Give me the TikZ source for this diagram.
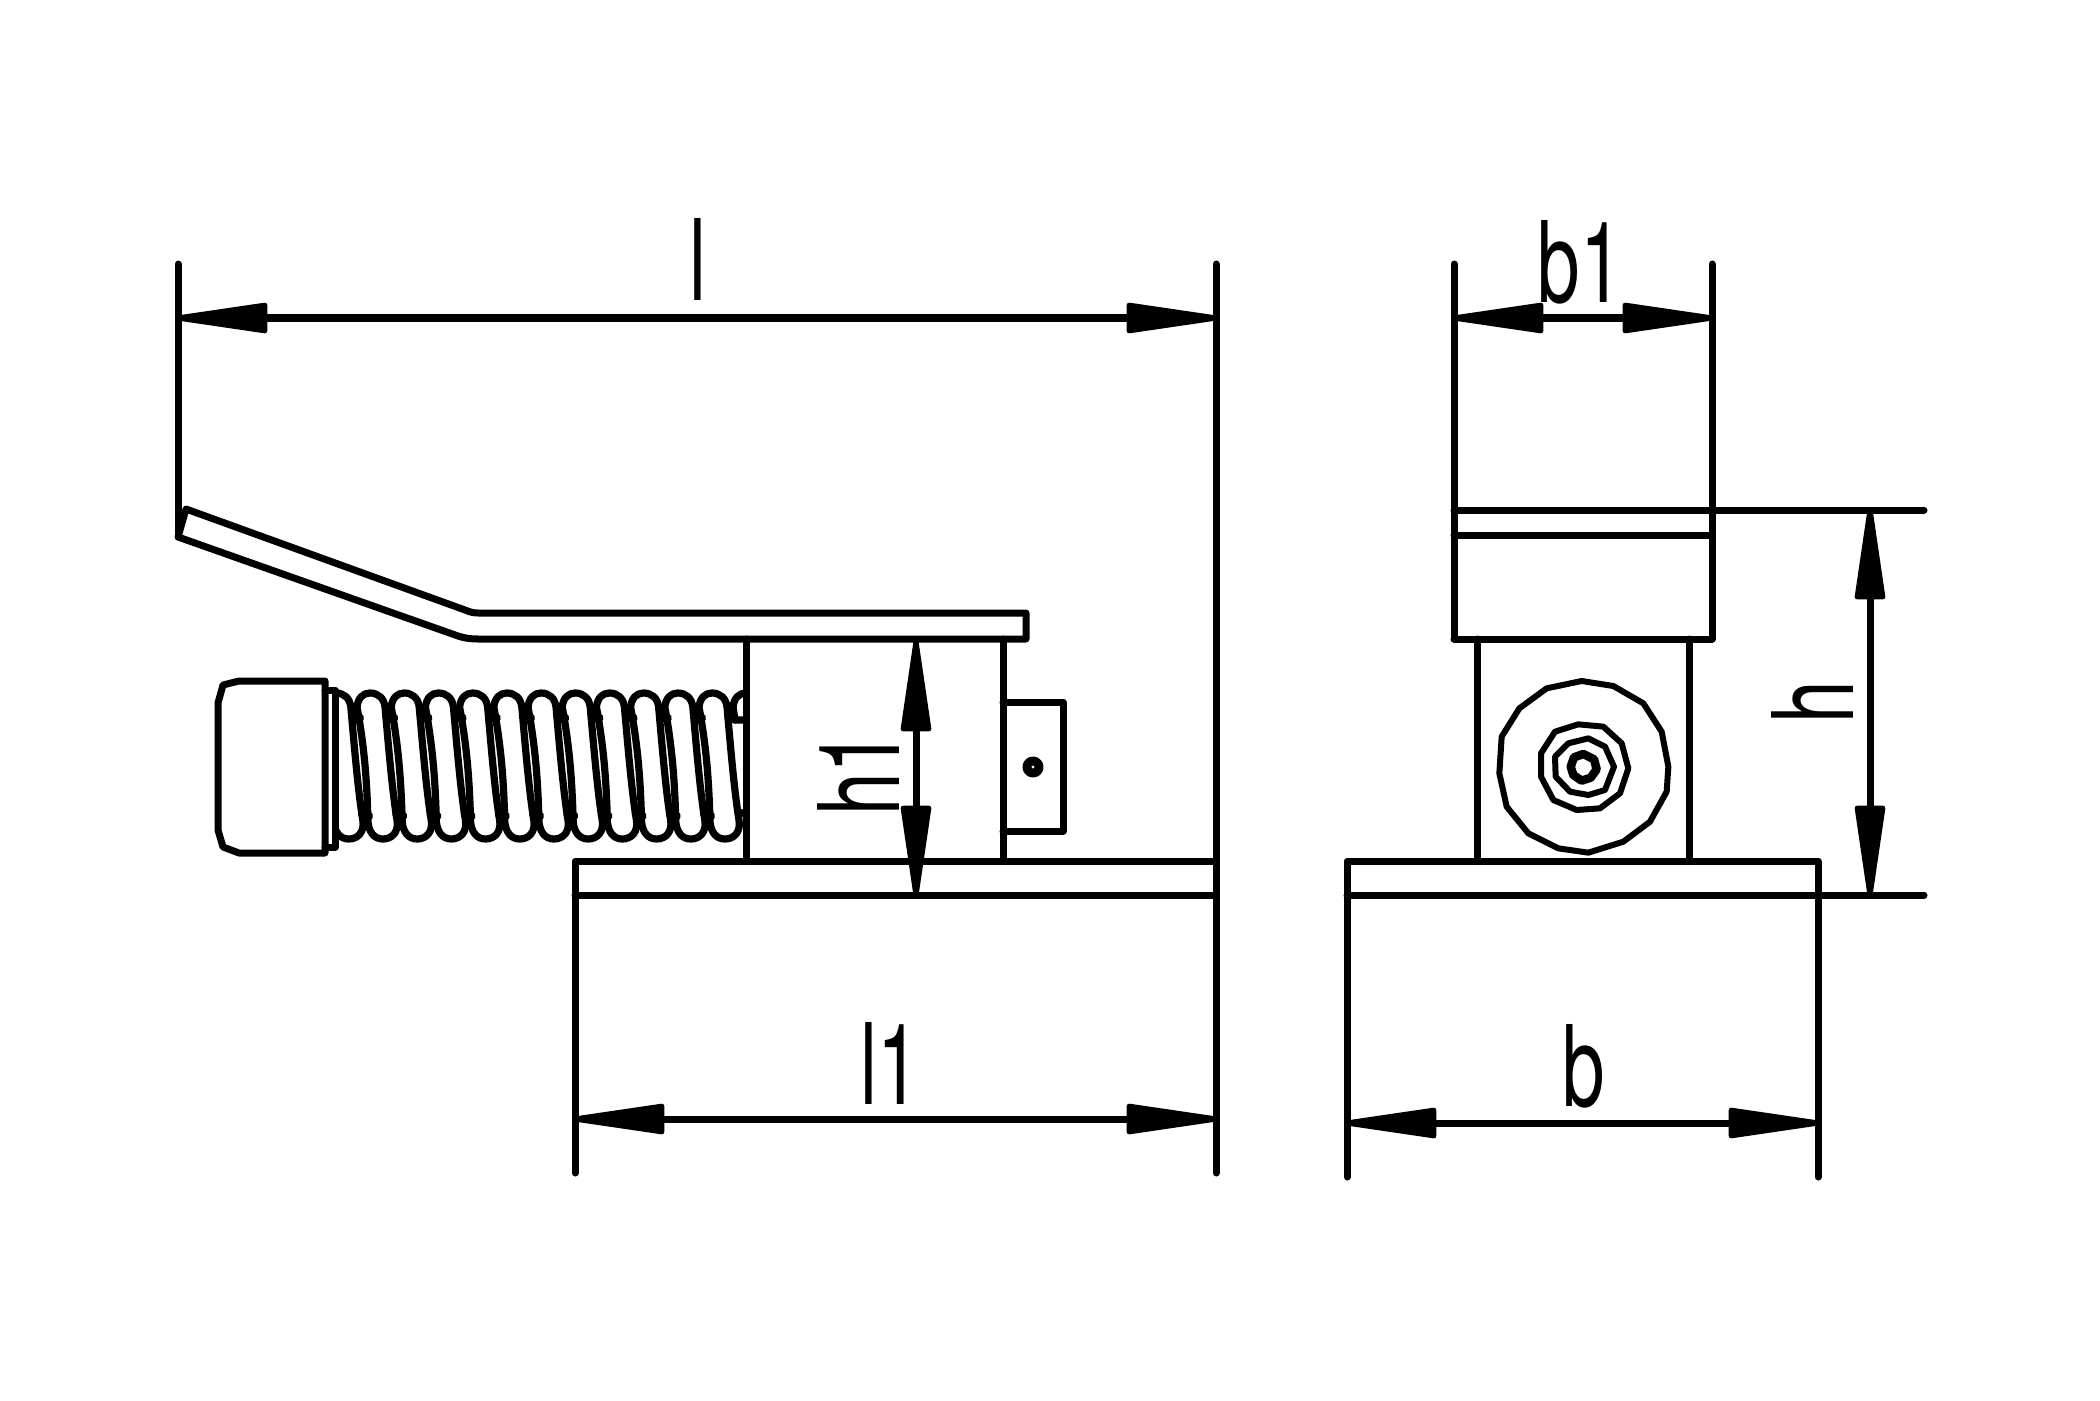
\documentclass[tikz,border=0pt]{standalone}
\usepackage{fontspec}
\usetikzlibrary{arrows.meta}
\newfontfamily\dimfont[FakeStretch=0.68]{TeX Gyre Heros}

\begin{document}
\begin{tikzpicture}[x=0.01cm, y=-0.01cm, line width=0.07cm, line join=round, line cap=round]
    \tikzstyle{dim}=[<->, >={Triangle[length=1.08cm,width=0.3cm,line width=0.05cm,round]}, shorten <=-0.03cm, shorten >=-0.03cm]
    \tikzstyle{dimlabel}=[font=\dimfont\fontsize{32}{32}\selectfont, inner sep=0pt, anchor=base]
    \tikzstyle{coil}=[line width=0.072cm]
    \tikzstyle{blob}=[line width=0.1cm]
    \tikzstyle{ring}=[line width=0.06cm]

    \path[use as bounding box] (0,0) rectangle (2100,1400);

    % extension line ends
    \coordinate (lL) at (178,264);
    \coordinate (lLb) at (178,537);
    \coordinate (lR) at (1216,264);
    \coordinate (lRb) at (1216,1173);
    \coordinate (lIb) at (575,1173);
    \coordinate (bA) at (1454,264);
    \coordinate (bB) at (1712,264);
    \coordinate (bAb) at (1454,639);
    \coordinate (bBb) at (1712,639);
    \coordinate (bL) at (1347,861);
    \coordinate (bLb) at (1347,1177);
    \coordinate (bR) at (1818,861);
    \coordinate (bRb) at (1818,1177);
    \coordinate (hT) at (1924,510);
    \coordinate (hB) at (1924,895);

    % lever
    \draw (lLb) -- (186,509) -- (465,610) .. controls (470,612) and (473,613) .. (478,613)
        -- (1026,613) -- (1026,639) -- (478,639) .. controls (470,639) and (464,638) .. (458,636) -- cycle;

    % spring
    \begin{scope}
        \clip (335,680) rectangle (746,860);
        \foreach \i in {-1,...,10} {
            \pgfmathsetmacro{\xa}{370+34.2*\i}
            \begin{scope}[shift={(\xa,0)}]
                \draw[coil, fill=white] (-13,707) .. controls (-12,698) and (-7,693) .. (0,693)
                    .. controls (8,693) and (14,698) .. (15,707)
                    .. controls (18,740) and (22,790) .. (27,820)
                    .. controls (29,832) and (22,839) .. (13,839)
                    .. controls (4,839) and (-1,832) .. (-2,822)
                    .. controls (-3,785) and (-5,750) .. (-13,707) -- cycle;
                \draw[blob] (-17,716) -- (-11,718);
                \draw[blob] (-7,814) -- (-2,816);
            \end{scope}
        }
        \draw[coil] (738,812) -- (746,814);
        % last turn goes behind the block
        \clip (700,680) rectangle (746,720);
        \draw[coil] (733,707) .. controls (734,698) and (739,693) .. (746,693);
    \end{scope}
    \draw[coil] (728,718) -- (735,720) -- (746,720);
    \draw[coil] (733,707) -- (735,720);

    % handle
    \draw (218,703) -- (223,685) -- (239,681) -- (325,681) -- (325,853) -- (239,853) -- (223,847) -- (218,830) -- cycle;
    \draw (325,690) -- (335,690) -- (335,847) -- (325,847);

    % block
    \draw (746,639) -- (746,861);
    \draw (1003,639) -- (1003,861);
    \draw (1003,702) -- (1063,702) -- (1063,831) -- (1003,831);
    \draw[line width=0.09cm] (1033,767) circle (6);

    % base, left view
    \draw (lIb) -- (575,861) -- (1216,861);
    \draw (575,895) -- (1216,895);

    % right view
    \draw (bAb) -- (bBb);
    \draw (1454,510) -- (hT);
    \draw (1454,535) -- (1712,535);
    \draw (1477,639) -- (1477,861);
    \draw (1689,639) -- (1689,861);
    \draw (bLb) -- (bL) -- (bR) -- (bRb);
    \draw (bL |- hB) -- (hB);

    % roller
    \begin{scope}[shift={(1440,480)}, x=0.01cm/3, y=-0.01cm/3]
        \draw[ring] (425,603) -- (520,618) -- (610,670) -- (665,755) -- (685,860) -- (680,935)
            -- (630,1025) -- (550,1085) -- (445,1118) -- (355,1105) -- (265,1060) -- (200,980)
            -- (178,880) -- (185,770) -- (238,685) -- (320,625) -- cycle;
        \draw[ring] (415,733) -- (490,740) -- (545,790) -- (565,865) -- (540,940) -- (480,985)
            -- (410,990) -- (340,960) -- (303,890) -- (303,820) -- (345,755) -- cycle;
        \draw[ring] (385,790) -- (445,775) -- (495,800) -- (522,860) -- (495,930) -- (445,945)
            -- (390,935) -- (347,890) -- (345,830) -- cycle;
        \draw[line width=0.085cm] (430,822) -- (462,838) -- (470,868) -- (452,893) -- (425,902) -- (400,885) -- (392,860) -- (402,832) -- cycle;
    \end{scope}

    % extension lines
    \draw (lL) -- (lLb);
    \draw (lR) -- (lRb);
    \draw (bA) -- (bAb);
    \draw (bB) -- (bBb);

    % dimensions
    \coordinate (hOne) at (916,642);
    \coordinate (hOneb) at (916,895);
    \path
        (178,318) edge[dim] (1216,318)
        (575,1119) edge[dim] (1216,1119)
        (1454,318) edge[dim] (1712,318)
        (1347,1123) edge[dim] (1818,1123)
        (1870,510) edge[dim] (1870,895)
        (hOne) edge[dim] (hOneb)
    ;

    \node[dimlabel] (l)  at (698,300)   {l};
    \node[dimlabel] (l1) at (890,1104)  {l1};
    \node[dimlabel] (b1) at (1580,302)  {b1};
    \node[dimlabel] (b)  at (1584,1106) {b};
    \node[dimlabel, rotate=90] (h)  at (1853,702) {h};
    \node[dimlabel, rotate=90] (h1) at (899,773)  {h1};
\end{tikzpicture}
\end{document}
